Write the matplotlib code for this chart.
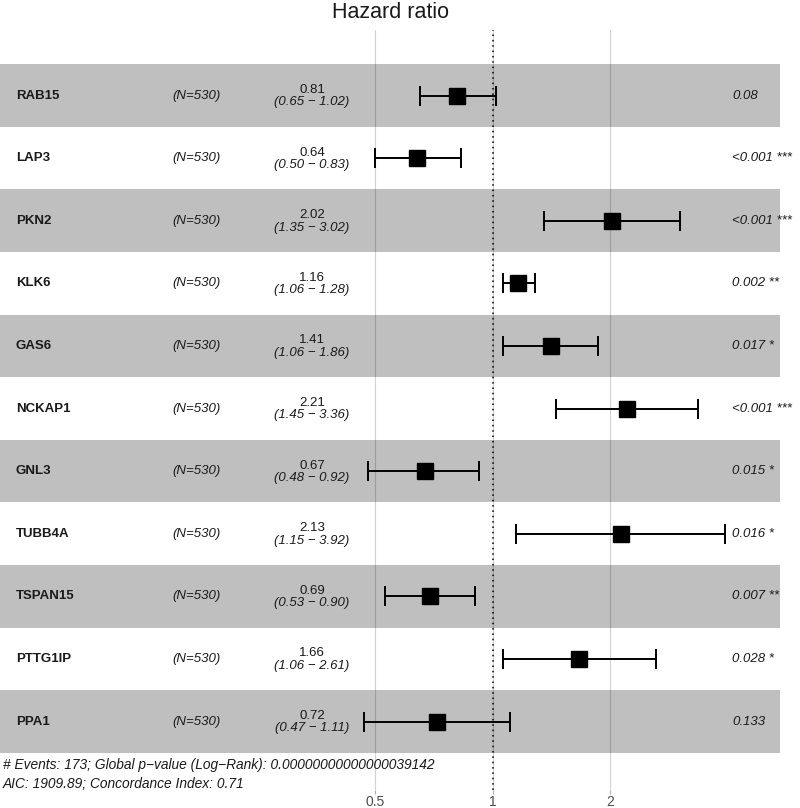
import matplotlib
matplotlib.use("Agg")
import numpy as np
import matplotlib.pyplot as plt

plt.rcParams['font.family'] = ['Liberation Sans', 'DejaVu Sans']

# cox model results, top to bottom
genes = ['RAB15', 'LAP3', 'PKN2', 'KLK6', 'GAS6', 'NCKAP1', 'GNL3',
         'TUBB4A', 'TSPAN15', 'PTTG1IP', 'PPA1']
n_obs = [530] * 11
hr = [0.81, 0.64, 2.02, 1.16, 1.41, 2.21, 0.67, 2.13, 0.69, 1.66, 0.72]
ci_lo = [0.65, 0.50, 1.35, 1.06, 1.06, 1.45, 0.48, 1.15, 0.53, 1.06, 0.47]
ci_hi = [1.02, 0.83, 3.02, 1.28, 1.86, 3.36, 0.92, 3.92, 0.90, 2.61, 1.11]
pvals = ['0.08', '<0.001', '<0.001', '0.002', '0.017', '<0.001', '0.015',
         '0.016', '0.007', '0.028', '0.133']
stars = ['', '***', '***', '**', '*', '***', '*', '*', '**', '*', '']
xticks = [0.5, 1, 2]
n_events = 173
global_p = '0.' + '0' * 15 + '39142'
aic = 1909.89
cindex = 0.71

W, H = 800, 808
fig = plt.figure(figsize=(W / 100, H / 100), dpi=100)
ax = fig.add_axes([0, 1 - 790 / H, 1, 760 / H])

# pixel layout of the log axis: 1 at x=492.7, one doubling = 117.7 px
x1, dbl = 492.7, 117.7
ax.set_xscale('log')
ax.set_xlim(2 ** ((0 - x1) / dbl), 2 ** ((W - x1) / dbl))
row_top, row_h = 64.3, 62.6
ax.set_ylim((790 - row_top) / row_h, (30 - row_top) / row_h)

for t in xticks:
    ax.axvline(t, color='#d2d2d2', lw=0.8, zorder=0)
ax.axvline(1, color='black', lw=1.1, ls=(0, (1, 2.5)), zorder=3)

for i in range(len(genes)):
    if i % 2 == 0:
        ax.axhspan(i, i + 1, xmin=0, xmax=780 / W, color='black', alpha=0.25,
                   lw=0, zorder=1)

y = np.arange(len(genes)) + 0.5
hr_a = np.array(hr)
err = [hr_a - np.array(ci_lo), np.array(ci_hi) - hr_a]
ax.errorbar(hr, y, xerr=err, fmt='s', color='black', ms=11.5, elinewidth=1.4,
            capsize=7, capthick=1.4, zorder=4)

tr = ax.get_yaxis_transform()
for i, g in enumerate(genes):
    yc = i + 0.5
    ax.text(16 / W, yc, g, transform=tr, ha='left', va='center',
            fontsize=9.5, fontweight='bold', color='#1a1a1a')
    ax.text(172 / W, yc, '(N=%d)' % n_obs[i], transform=tr, ha='left',
            va='center', fontsize=9.5, style='italic', color='#1a1a1a')
    ax.text(312 / W, yc - 0.09, '%.2f' % hr[i], transform=tr, ha='center',
            va='center', fontsize=9.5, color='#1a1a1a')
    ax.text(312 / W, yc + 0.11, '(%.2f \u2212 %.2f)' % (ci_lo[i], ci_hi[i]),
            transform=tr, ha='center', va='center', fontsize=9.5,
            style='italic', color='#1a1a1a')
    lab = pvals[i] + (' ' + stars[i] if stars[i] else '')
    ax.text(732 / W, yc, lab, transform=tr, ha='left', va='center',
            fontsize=9.5, style='italic', color='#1a1a1a')

ax.set_xticks(xticks)
ax.set_xticklabels(['0.5', '1', '2'])
ax.xaxis.set_minor_locator(matplotlib.ticker.NullLocator())
ax.tick_params(axis='x', length=3, color='#b0b0b0', labelsize=10,
               labelcolor='#4d4d4d', pad=0.5)
ax.set_yticks([])
for s in ax.spines.values():
    s.set_visible(False)
ax.patch.set_alpha(0)

fig.text(390 / W, 1 - 13 / H, 'Hazard ratio', ha='center', va='center',
         fontsize=15.5, color='#1a1a1a')
fig.text(3 / W, 1 - 765 / H,
         '# Events: %d; Global p\u2212value (Log\u2212Rank): %s' % (n_events, global_p),
         ha='left', va='center', fontsize=9.9, style='italic', color='#1a1a1a')
fig.text(3 / W, 1 - 784 / H,
         'AIC: %.2f; Concordance Index: %.2f' % (aic, cindex),
         ha='left', va='center', fontsize=9.9, style='italic', color='#1a1a1a')

fig.savefig('out.png', dpi=100)
